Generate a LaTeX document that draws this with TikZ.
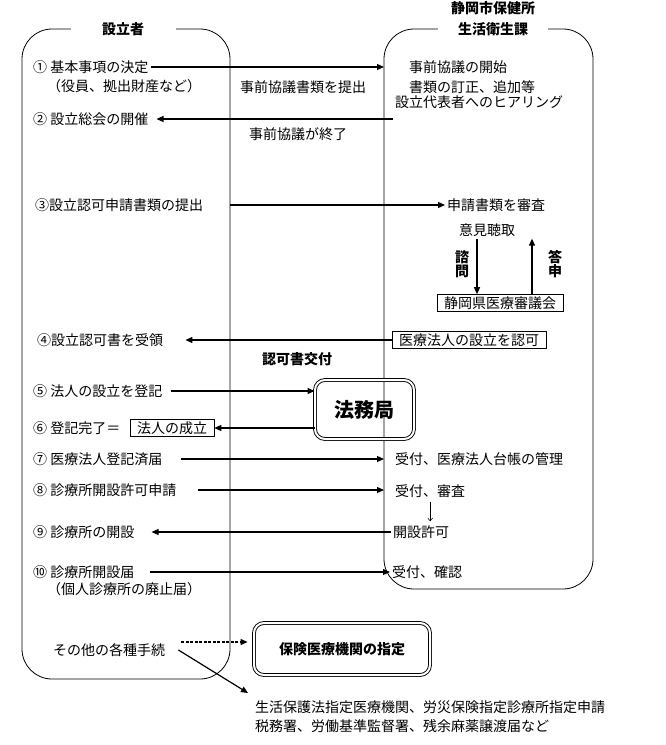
\documentclass[tikz,border=0pt]{standalone}
\usepackage{fontspec}
\setmainfont{Noto Sans CJK JP}
\usepackage{tikz}
\usetikzlibrary{arrows.meta}

\begin{document}
\begin{tikzpicture}[x=1pt, y=-1pt, font=\fontsize{14}{16}\selectfont,
	every node/.style={inner sep=2pt},
	txt/.style={anchor=west},
	title/.style={font=\fontsize{14}{16}\selectfont\bfseries, fill=white},
	panel/.style={draw, line width=0.8pt, rounded corners=30pt, inner sep=0pt, outer sep=0pt},
	tag/.style={draw, line width=0.6pt, inner xsep=7pt, inner ysep=2pt},
	office/.style={draw, line width=0.9pt, double, double distance=2pt, rounded corners=10pt, font=\fontsize{14}{16}\selectfont\bfseries},
	vlab/.style={align=center, font=\fontsize{14}{14.5}\selectfont\bfseries},
	arr/.style={line width=1.2pt, -{Triangle[length=7pt,width=6pt]}},
	thinarr/.style={line width=0.5pt, -{Straight Barb[length=3pt,width=5pt]}, shorten <=2pt, shorten >=2pt},]
\useasboundingbox (0,0) rectangle (665,745);
\node[panel, minimum width=208pt, minimum height=650pt] (setsu) at (126,354) {};
\node[panel, minimum width=209pt, minimum height=560pt] (hoken) at (488.5,309) {};
\node[title, minimum width=105pt] (tSetsu) at (123,29) {設立者};
\node[title, minimum width=110pt] (tKa) at (493,29) {生活衛生課};
\node[title] (tHo) at (493,8) {静岡市保健所};

\node[txt] (s1) at (31,67) {① 基本事項の決定};
\node[txt] (s1b) at (45,86) {（役員、拠出財産など）};
\node[txt] (s2) at (31,119) {② 設立総会の開催};
\node[txt] (s3) at (33,205) {③設立認可申請書類の提出};
\node[txt] (s4) at (35,340) {④設立認可書を受領};
\node[txt] (s5) at (31,391) {⑤ 法人の設立を登記};
\node[txt] (s6) at (31,428) {⑥ 登記完了＝};
\node[tag] (seiritsu) at (172,428) {法人の成立};
\node[txt] (s7) at (31,459) {⑦ 医療法人登記済届};
\node[txt] (s8) at (31,490) {⑧ 診療所開設許可申請};
\node[txt] (s9) at (31,532) {⑨ 診療所の開設};
\node[txt] (s10) at (31,572) {⑩ 診療所開設届};
\node[txt] (s10b) at (45,589) {（個人診療所の廃止届）};
\node[txt] (sonota) at (51,650) {その他の各種手続};

\node[txt] (r1) at (407,67) {事前協議の開始};
\node[txt] (r2) at (407,87) {書類の訂正、追加等};
\node[txt] (r3) at (393,102) {設立代表者へのヒアリング};
\node[txt] (r4) at (445,205) {申請書類を審査};
\node (r5) at (487,230) {意見聴取};
\node[tag] (shingikai) at (500,303) {静岡県医療審議会};
\node[vlab] (shimon) at (462,264) {諮\\問};
\node[vlab] (toshin) at (555,264) {答\\申};
\node[tag] (ninka) at (469,340) {医療法人の設立を認可};
\node[txt] (r7) at (393,459) {受付、医療法人台帳の管理};
\node[txt] (r8) at (393,491) {受付、審査};
\node[txt] (r9) at (391,532) {開設許可};
\node[txt] (r10) at (390,572) {受付、確認};

\node (teishutsu) at (303,87) {事前協議書類を提出};
\node (shuryo) at (298,134) {事前協議が終了};
\node[font=\fontsize{14}{16}\selectfont\bfseries] (kofu) at (297,359) {認可書交付};
\node[office, minimum width=99pt, minimum height=59pt, font=\fontsize{20}{22}\selectfont\bfseries] (houmu) at (364.5,409.5) {法務局};
\node[office, minimum width=176pt, minimum height=52pt] (hsitei) at (342,649) {保険医療機関の指定};
\node[anchor=north west, align=left, font=\fontsize{14}{19}\selectfont] (note) at (253,699) {生活保護法指定医療機関、労災保険指定診療所指定申請\\税務署、労働基準監督署、残余麻薬譲渡届など};

\draw[arr] (s1) -- (s1 -| hoken.west);
\draw[arr, shorten >=6pt] (r3.west |- s2) -- (s2);
\draw[arr] (setsu.east |- s3) -- (r4);
\draw[arr, shorten >=20pt] (ninka) -- (s4);
\draw[arr, shorten <=6pt] (s5) -- (s5 -| houmu.west);
\draw[arr] (houmu.west |- seiritsu) -- (seiritsu);
\draw[arr, shorten <=16pt] (s7) -- (s7 -| hoken.west);
\draw[arr, shorten <=19pt] (s8) -- (s8 -| hoken.west);
\draw[thinarr] (r8) -- (r8 |- r9.north);
\draw[arr, shorten >=15pt] (r9) -- (s9);
\draw[arr, shorten <=13pt] (s10) -- (r10);
\draw[arr, dash pattern=on 3pt off 1.5pt, shorten <=14pt, shorten >=6pt] ([yshift=8pt]sonota.east) -- ([yshift=8pt]sonota.east -| hsitei.west);
\draw[arr] ([xshift=11pt]sonota.east) -- ([shift={(-5pt,6pt)}]note.north west);
\draw[arr] ([xshift=-23pt]shingikai.north |- r5.south) -- ([xshift=-23pt]shingikai.north);
\draw[arr] ([xshift=32pt]shingikai.north) -- ([xshift=32pt]shingikai.north |- r5.south);
\end{tikzpicture}
\end{document}
